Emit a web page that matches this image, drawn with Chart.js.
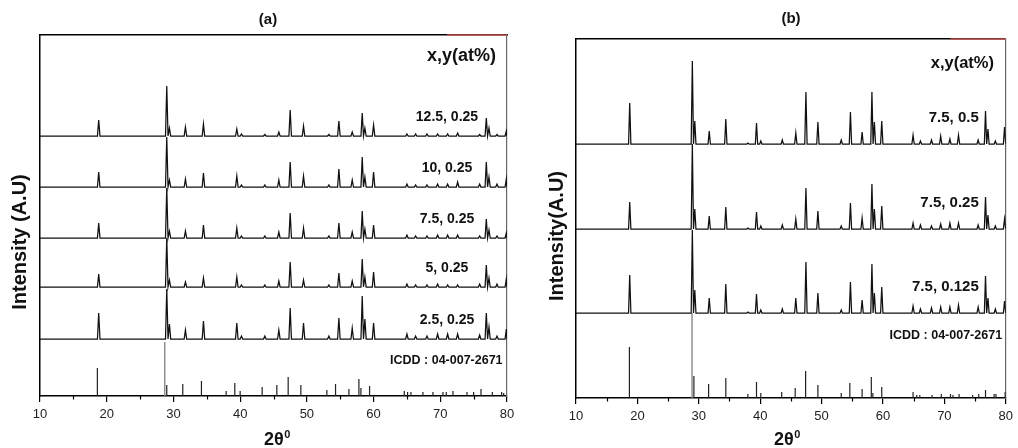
<!DOCTYPE html>
<html>
<head>
<meta charset="utf-8">
<script src="https://cdn.jsdelivr.net/npm/chart.js@4"></script>
<style>
  body { margin: 0; background: #fff; }
  #wrap { position: relative; width: 1018px; height: 448px; overflow: hidden; }
  canvas { position: absolute; top: 0; }
</style>
</head>
<body>
<div id="wrap">
  <canvas id="chartA" width="530" height="448" style="left:0"></canvas>
  <canvas id="chartB" width="509" height="448" style="left:509px"></canvas>
</div>
<script>
// ======= EIXOS =======
const xTicks = [10, 20, 30, 40, 50, 60, 70, 80];
const xMinor = [15, 25, 35, 45, 55, 65, 75];

// ======= PAINEL (a) =======
const labelsA = ["12.5, 0.25", "10, 0.25", "7.5, 0.25", "5, 0.25", "2.5, 0.25"];
const offsetsA = [260, 209, 158, 109, 57];
const peaksA = [18.8, 29.0, 29.4, 31.8, 34.5, 39.5, 40.2, 43.7, 45.8, 47.5, 49.5, 53.3, 54.8, 56.8,
  58.3, 58.7, 60.0, 65.0, 66.3, 68.0, 69.6, 71.1, 72.6, 75.9, 76.9, 77.3, 78.5, 79.9];
const hA125 = [16, 50, 8, 9, 12, 7, 2, 1.5, 4, 26, 10, 1.5, 15, 4, 23, 8, 11, 2, 2, 2, 2, 2, 3, 1.5, 18, 8, 1.5, 5];
const hA10  = [15, 50, 7, 8, 14, 11, 2, 2, 7, 25, 11, 2, 18, 7, 30, 10, 15, 3, 2, 2, 3, 3, 5, 3, 25, 10, 3, 8];
const hA75  = [15, 50, 7, 7, 13, 10, 2, 2, 6, 25, 10, 2, 15, 6, 27, 9, 13, 3, 2, 2, 3, 3, 3, 2, 19, 8, 2, 5];
const hA5   = [13, 49, 7, 5, 9, 10, 2, 2, 6, 25, 7, 2, 14, 6, 28, 10, 15, 3, 2, 2, 3, 2, 2, 3, 22, 9, 3, 8];
const hA25  = [26, 50, 15, 9, 18, 16, 3, 3, 9, 31, 16, 3, 21, 11, 43, 20, 16, 5, 3, 3, 5, 5, 5, 4, 26, 12, 3, 10];
const icddPosA = [18.6, 29.0, 31.4, 34.2, 37.9, 39.2, 40.0, 43.3, 45.5, 47.2, 49.1, 53.0, 54.3, 56.3, 57.8,
  58.1, 59.4, 64.6, 65.1, 65.6, 67.4, 68.9, 70.4, 70.9, 71.9, 74.0, 75.0, 76.1, 77.8, 79.2, 79.5];
const icddHA = [28, 11, 12, 15, 5, 13, 5, 9, 11, 19, 11, 6, 12, 7, 17, 8, 10, 5, 4, 4, 4, 4, 4, 4, 5, 4, 4, 7, 4, 4, 3];
const icddMainA = [28.7];
const icddMainHA = [54];

// ======= PAINEL (b) =======
const labelsB = ["7.5, 0.5", "7.5, 0.25", "7.5, 0.125"];
const offsetsB = [254, 169, 85];
const peaksB = [18.75, 28.95, 29.35, 31.7, 34.4, 38.0, 39.4, 40.1, 43.6, 45.8, 47.45, 49.4, 53.2, 54.7, 56.6,
  58.2, 58.6, 59.8, 64.9, 66.1, 67.9, 69.4, 70.9, 72.3, 75.5, 76.7, 77.1, 78.3, 79.8];
const hB05   = [41, 83, 23, 13, 25, 1, 21, 3, 4, 11, 52, 22, 4, 32, 12, 52, 22, 23, 9, 3, 4, 8, 5, 9, 4, 33, 15, 3, 17];
const hB025  = [27, 85, 20, 13, 22, 1, 17, 3, 4, 10, 41, 18, 3, 26, 11, 45, 20, 23, 6, 4, 3, 5, 6, 6, 4, 32, 14, 3, 10];
const hB0125 = [38, 83, 23, 15, 29, 1, 19, 3, 4, 15, 51, 20, 3, 31, 13, 49, 20, 26, 7, 4, 5, 6, 6, 8, 6, 37, 15, 4, 12];
const icddPosB = [18.7, 29.2, 31.6, 34.4, 38.0, 39.4, 40.1, 43.5, 45.7, 47.4, 49.4, 53.2, 54.6, 56.6, 58.1,
  58.35, 59.8, 64.9, 65.5, 66.0, 68.0, 69.5, 71.0, 71.4, 72.4, 74.6, 75.6, 76.7, 78.1, 78.4, 79.9];
const icddHB = [51, 22, 14, 20, 4, 16, 5, 6, 10, 27, 13, 5, 15, 9, 21, 5, 11, 6, 3, 3, 3, 4, 4, 3, 4, 3, 4, 8, 4, 4, 6];
const icddMainB = [28.9];
const icddMainHB = [85];

const FONT = "'Liberation Sans', Arial, sans-serif";
const W = 0.19; // meia largura do pico na base

// ======= MONTAGEM DAS SERIES =======
function trace(pos, h, off) {
  const pts = [{ x: 10, y: off }];
  pos.forEach((p, i) => {
    pts.push({ x: p - W, y: off }, { x: p, y: off + h[i] }, { x: p + W, y: off });
  });
  pts.push({ x: 80, y: off });
  return pts.sort((a, b) => a.x - b.x);
}

function sticks(pos, h) {
  const pts = [];
  pos.forEach((p, i) => pts.push({ x: p, y: 0 }, { x: p, y: h[i] }, { x: p, y: null }));
  return pts;
}

const lineDs = (data, color, width) => ({
  data, borderColor: color, borderWidth: width, pointRadius: 0, tension: 0, fill: false
});

// ======= TEXTOS =======
const textPlugin = {
  id: "marks",
  afterDraw(chart, args, o) {
    const { ctx, chartArea } = chart;
    const xs = chart.scales.x, ys = chart.scales.y;
    ctx.save();
    ctx.fillStyle = "#111";
    ctx.textBaseline = "middle";

    // minor ticks
    ctx.strokeStyle = "#000";
    ctx.lineWidth = 1.2;
    xMinor.forEach(v => {
      const px = Math.round(xs.getPixelForValue(v)) + 0.5;
      ctx.beginPath();
      ctx.moveTo(px, chartArea.bottom);
      ctx.lineTo(px, chartArea.bottom + 3.5);
      ctx.stroke();
    });

    // trecho vermelho da borda superior
    ctx.strokeStyle = "#c0504d";
    ctx.lineWidth = 1.5;
    ctx.beginPath();
    ctx.moveTo(xs.getPixelForValue(71), chartArea.top);
    ctx.lineTo(xs.getPixelForValue(80), chartArea.top);
    ctx.stroke();

    // titulo do painel
    ctx.textAlign = "center";
    ctx.font = `bold 15px ${FONT}`;
    ctx.fillText(o.panel, o.panelX, o.panelY);

    // eixo y
    ctx.save();
    ctx.translate(o.yTitleX, o.yTitleY);
    ctx.rotate(-Math.PI / 2);
    ctx.font = `bold 20px ${FONT}`;
    ctx.fillText(o.yTitle, 0, 0);
    ctx.restore();

    // eixo x: 2θ com 0 sobrescrito
    ctx.textBaseline = "alphabetic";
    ctx.font = `bold 18px ${FONT}`;
    const w1 = ctx.measureText("2θ").width;
    ctx.font = `bold 11px ${FONT}`;
    const w2 = ctx.measureText("0").width;
    const sx = o.xTitleX - (w1 + w2) / 2;
    ctx.textAlign = "left";
    ctx.font = `bold 18px ${FONT}`;
    ctx.fillText("2θ", sx, 445);
    ctx.font = `bold 11px ${FONT}`;
    ctx.fillText("0", sx + w1 + 0.5, 438);

    // legenda das curvas
    ctx.textBaseline = "middle";
    ctx.textAlign = "right";
    ctx.font = `bold ${o.headSize}px ${FONT}`;
    ctx.fillText("x,y(at%)", o.headX, o.headY);

    ctx.textAlign = o.labelAlign;
    ctx.font = `bold ${o.labelSize}px ${FONT}`;
    o.labels.forEach((t, i) => {
      ctx.fillText(t, xs.getPixelForValue(o.labelX), ys.getPixelForValue(o.offsets[i] + o.labelDy));
    });

    ctx.textAlign = o.labelAlign;
    ctx.font = `bold 12.5px ${FONT}`;
    ctx.fillText("ICDD : 04-007-2671", xs.getPixelForValue(o.icddX), ys.getPixelForValue(o.icddY));
    ctx.restore();
  }
};

// ======= GRAFICOS =======
function makeChart(id, datasets, yMax, pad, xHeight, marks) {
  return new Chart(document.getElementById(id), {
    type: "line",
    data: { datasets },
    plugins: [textPlugin],
    options: {
      responsive: false,
      animation: false,
      events: [],
      devicePixelRatio: 1,
      layout: { padding: pad },
      plugins: { legend: { display: false }, tooltip: { enabled: false }, marks },
      scales: {
        x: {
          type: "linear", min: 10, max: 80, position: "bottom",
          afterBuildTicks: s => { s.ticks = xTicks.map(v => ({ value: v })); },
          ticks: { color: "#222", font: { family: FONT, size: 13 }, padding: 5, maxRotation: 0, autoSkip: false },
          grid: { drawOnChartArea: false, drawTicks: true, tickLength: 6, color: "#000", lineWidth: 1.2 },
          border: { display: true, color: "#000", width: 1.5 },
          afterFit: s => { s.height = xHeight; }
        },
        xT: {
          type: "linear", min: 10, max: 80, position: "top",
          ticks: { display: false }, grid: { display: false, drawTicks: false },
          border: { display: true, color: "#000", width: 1.5 },
          afterFit: s => { s.height = 0; }
        },
        y: {
          type: "linear", min: 0, max: yMax,
          ticks: { display: false }, grid: { display: false, drawTicks: false },
          border: { display: true, color: "#000", width: 1.5 },
          afterFit: s => { s.width = 0; }
        },
        yR: {
          type: "linear", min: 0, max: yMax, position: "right",
          ticks: { display: false }, grid: { display: false, drawTicks: false },
          border: { display: true, color: "#666", width: 1.2 },
          afterFit: s => { s.width = 0; }
        }
      }
    }
  });
}

const dark = "#111";
const hA = [hA125, hA10, hA75, hA5, hA25];
makeChart("chartA",
  [
    ...hA.map((h, i) => lineDs(trace(peaksA, h, offsetsA[i]), dark, 1.25)),
    lineDs(sticks(icddPosA, icddHA), "#222", 1.2),
    lineDs(sticks(icddMainA, icddMainHA), "#888", 1.4)
  ],
  361, { left: 40, right: 23, top: 35, bottom: 0 }, 52,
  {
    panel: "(a)", panelX: 268, panelY: 20,
    yTitle: "Intensity (A.U)", yTitleX: 20, yTitleY: 242,
    xTitleX: 277,
    headSize: 18, headX: 496, headY: 56,
    labels: labelsA, offsets: offsetsA, labelX: 71.0, labelDy: 19, labelSize: 14, labelAlign: "center",
    icddX: 70.9, icddY: 35
  });

const hB = [hB05, hB025, hB0125];
makeChart("chartB",
  [
    ...hB.map((h, i) => lineDs(trace(peaksB, h, offsetsB[i]), dark, 1.25)),
    lineDs(sticks(icddPosB, icddHB), "#222", 1.2),
    lineDs(sticks(icddMainB, icddMainHB), "#888", 1.4)
  ],
  359, { left: 67, right: 8, top: 39, bottom: 0 }, 50,
  {
    panel: "(b)", panelX: 282, panelY: 19,
    yTitle: "Intensity(A.U)", yTitleX: 48, yTitleY: 236,
    xTitleX: 278,
    headSize: 16.5, headX: 485, headY: 63,
    labels: labelsB, offsets: offsetsB, labelX: 75.6, labelDy: 26, labelSize: 15, labelAlign: "right",
    icddX: 79.4, icddY: 62
  });
</script>
</body>
</html>
